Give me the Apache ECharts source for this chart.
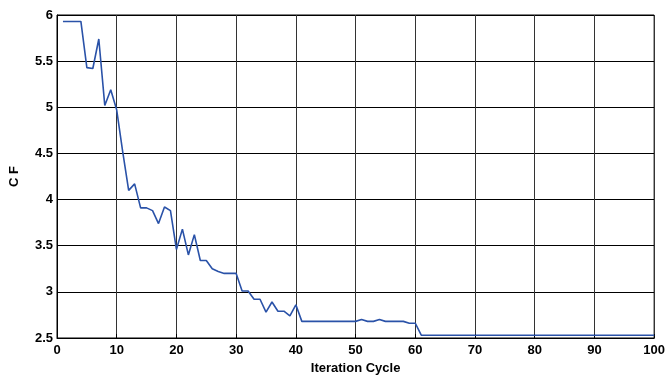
<!DOCTYPE html>
<html><head><meta charset="utf-8">
<script src="https://cdn.jsdelivr.net/npm/echarts@6/dist/echarts.min.js"></script>
<style>html,body{margin:0;padding:0;background:#fff}#c{width:668px;height:380px}</style>
</head><body><div id="c"></div>
<script>
const iterations = Array.from({length: 100}, (_, i) => i + 1);
const cfValues = [
  5.93, 5.93, 5.93, 5.93, 5.43, 5.42, 5.74, 5.02, 5.19, 4.97,
  4.52, 4.10, 4.17, 3.91, 3.91, 3.88, 3.74, 3.92, 3.88, 3.46,
  3.68, 3.40, 3.62, 3.34, 3.34, 3.25, 3.22, 3.20, 3.20, 3.20,
  3.01, 3.01, 2.92, 2.92, 2.78, 2.89, 2.79, 2.79, 2.74, 2.86,
  2.68, 2.68, 2.68, 2.68, 2.68, 2.68, 2.68, 2.68, 2.68, 2.68,
  2.70, 2.68, 2.68, 2.70, 2.68, 2.68, 2.68, 2.68, 2.66, 2.66,
  2.53, 2.53, 2.53, 2.53, 2.53, 2.53, 2.53, 2.53, 2.53, 2.53,
  2.53, 2.53, 2.53, 2.53, 2.53, 2.53, 2.53, 2.53, 2.53, 2.53,
  2.53, 2.53, 2.53, 2.53, 2.53, 2.53, 2.53, 2.53, 2.53, 2.53,
  2.53, 2.53, 2.53, 2.53, 2.53, 2.53, 2.53, 2.53, 2.53, 2.53
];
const xTitle = 'Iteration Cycle';
const yTitle = 'C F';

const chart = echarts.init(document.getElementById('c'), null, {renderer: 'canvas'});
const font = {fontFamily: 'Liberation Sans, Arial, sans-serif', fontWeight: 'bold', fontSize: 13, color: '#000'};
chart.setOption({
  animation: false,
  grid: {left: 52, right: 11, top: 15, bottom: 38, show: true, borderColor: '#000', borderWidth: 1},
  xAxis: {
    type: 'value', min: 0, max: 100, interval: 10,
    name: xTitle, nameLocation: 'middle', nameGap: 24,
    nameTextStyle: font,
    axisLine: {show: true, onZero: false, lineStyle: {color: '#000', width: 1}},
    axisTick: {show: true, inside: true, length: 4, lineStyle: {color: '#000'}},
    axisLabel: Object.assign({margin: 6}, font),
    splitLine: {show: true, lineStyle: {color: '#333', width: 1}}
  },
  yAxis: {
    type: 'value', min: 2.5, max: 6, interval: 0.5,
    name: yTitle, nameLocation: 'middle', nameGap: 36, nameRotate: 90,
    nameTextStyle: font,
    axisLine: {show: true, onZero: false, lineStyle: {color: '#000', width: 1}},
    axisTick: {show: true, inside: true, length: 4, lineStyle: {color: '#000'}},
    axisLabel: Object.assign({margin: 4}, font),
    splitLine: {show: true, lineStyle: {color: '#000', width: 1}}
  },
  series: [{
    type: 'line',
    data: iterations.map((x, i) => [x, cfValues[i]]),
    showSymbol: false,
    lineStyle: {color: '#2a52a8', width: 1.6},
    itemStyle: {color: '#2a52a8'}
  }]
});
</script>
</body></html>
